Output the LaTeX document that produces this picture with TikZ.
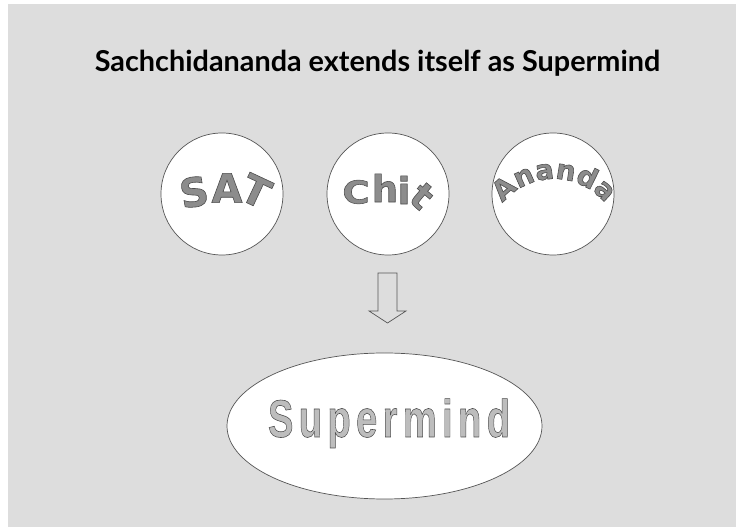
\documentclass[tikz,border=0pt]{standalone}
\usepackage{fontspec}
\usetikzlibrary{decorations.text,shapes.geometric}
\newfontfamily\titlefont{Lato}
\newfontfamily\heavyfont{DejaVu Sans}
\newfontfamily\supfont{Liberation Sans}[LetterSpace=14]
\definecolor{bg}{HTML}{DDDDDD}
\definecolor{letterfill}{HTML}{8C8C8C}
\definecolor{edge}{HTML}{555555}
\definecolor{supfill}{HTML}{BDBDBD}
\newcommand\outl[1]{\special{pdf:literal direct 2 Tr 0.6 w 0.3 0.3 0.3 RG}#1\special{pdf:literal direct 0 Tr}}
\newcommand\anfmt{\heavyfont\bfseries\fontsize{27.5}{27.5}\selectfont\color{letterfill}\special{pdf:literal direct 2 Tr 0.6 w 0.3 0.3 0.3 RG}}
\tikzset{
  ball/.style={circle, draw=edge, line width=0.7pt, fill=white, minimum size=122pt, inner sep=0pt},
  letter/.style={font=\heavyfont\bfseries\fontsize{37}{37}\selectfont, text=letterfill, inner sep=0pt},
  satletter/.style={letter, font=\heavyfont\bfseries\fontsize{40}{40}\selectfont},
  blockarrow/.style={draw=edge, line width=0.7pt, fill=bg, line join=miter},
}
\begin{document}
\begin{tikzpicture}[x=1pt,y=1pt]
\useasboundingbox (0,0) rectangle (736,527);
\fill[bg] (8,0) rectangle (736,523);
% title
\node[anchor=base, inner sep=0pt, font=\titlefont\bfseries\fontsize{28.8}{28.8}\selectfont] (title) at (377.5,455) {Sachchidananda extends itself as Supermind};
% circles
\node[ball] (sat) at (222,333) {};
\node[ball] (chit) at (388,333) {};
\node[ball] (ananda) at (553,333) {};
% SAT
\node[satletter, rotate=10] (satS) at (194,335) {\outl{S}};
\node[satletter] (satA) at (227,339) {\outl{A}};
\node[satletter, rotate=-25] (satT) at (256,336) {\outl{T}};
% Chit
\node[letter, yscale=0.85] (chC) at (356,335) {\outl{C}};
\node[letter] (chh) at (385,339) {\outl{h}};
\node[letter] (chi) at (404,337) {\outl{i}};
\node[letter, rotate=-40] (cht) at (422,331) {\outl{t}};
% Ananda
\path[decorate, decoration={text along path, text align=center, text={|\anfmt|Ananda}}]
  (554,282) ++(152:66) arc[start angle=152, end angle=28, radius=66];
% block arrow
\coordinate (arrtop) at (387.5,254);
\draw[blockarrow] (378,254) -- (397,254) -- (397,216) -- (406,216) -- (387.5,204) -- (369,216) -- (378,216) -- cycle;
% Supermind
\node[ellipse, draw=edge, line width=0.7pt, fill=white, minimum width=315pt, minimum height=146pt, inner sep=0pt] (sm) at (384.5,101) {};
\node[anchor=base, inner sep=0pt, text=supfill] (smtext) at (389,90) {\scalebox{0.72}[1]{\supfont\bfseries\fontsize{53}{53}\selectfont\outl{Supermind}}};
\end{tikzpicture}
\end{document}
